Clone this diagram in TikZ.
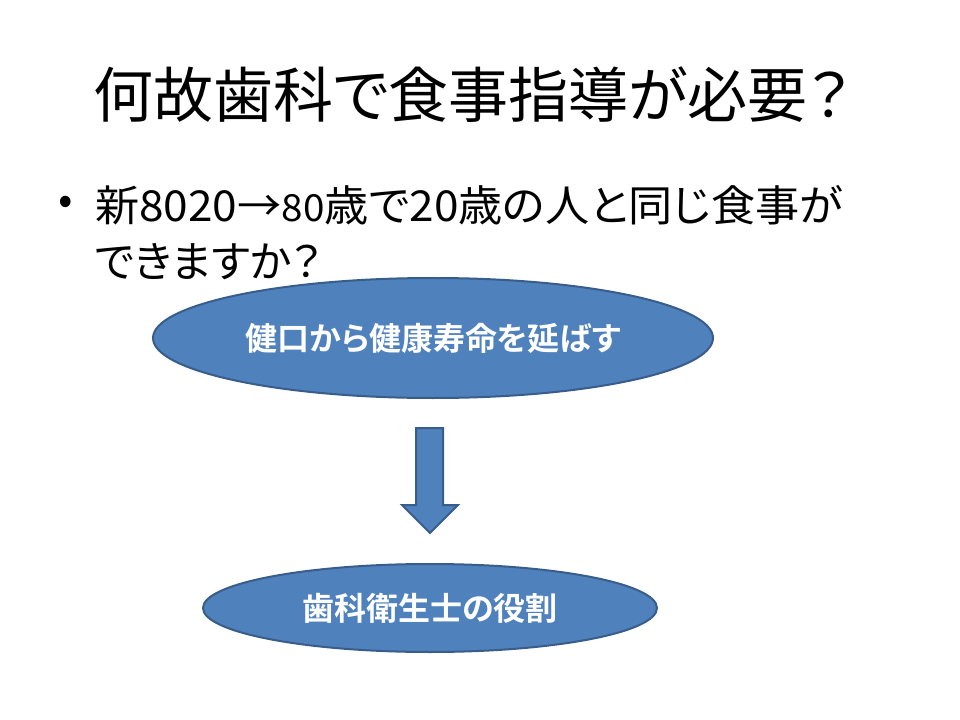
\documentclass[tikz,border=0pt]{standalone}
\usepackage{fontspec}
\usepackage{graphicx}
\newfontfamily\jp[RawFeature=+palt]{Noto Sans CJK JP}
\newfontfamily\jpb[RawFeature=+palt,BoldFont={Noto Sans CJK JP Bold}]{Noto Sans CJK JP}
\usetikzlibrary{shapes.geometric}
\definecolor{boxfill}{HTML}{4F81BD}
\definecolor{boxline}{HTML}{385D8A}
\tikzset{
  oval/.style={ellipse, fill=boxfill, draw=boxline, line width=1.5pt, inner sep=0pt, text=white, font=\jpb\bfseries\fontsize{24}{28}\selectfont},
  blockarrow/.style={fill=boxfill, draw=boxline, line width=1.5pt, line join=miter},
  bodytext/.style={font=\jp\fontsize{32}{38}\selectfont, anchor=west, inner sep=0pt},
}
\begin{document}
\begin{tikzpicture}[x=0.75pt,y=-0.75pt]
\useasboundingbox (0,0) rectangle (960,720);
\node[font=\jp\fontsize{45}{50}\selectfont] (title) at (472,95) {何故歯科で食事指導が必要？};
\node[font=\jp\fontsize{32}{38}\selectfont, anchor=center] (bul) at (66,205) {•};
\node[bodytext] (l1) at (95,205) {\scalebox{1.035}[1]{新8020→{\fontsize{28}{32}\selectfont 80}歳で20歳の人と同じ食事が}};
\node[bodytext] (l2) at (95,262) {できますか？};
\node[oval, minimum width=560*0.75pt, minimum height=120*0.75pt] (e1) at (433,338) {健口から健康寿命を延ばす};
\node[oval, minimum width=454*0.75pt, minimum height=88*0.75pt] (e2) at (430,608) {歯科衛生士の役割};
\draw[blockarrow] (416,428) -- (443,428) -- (443,505) -- (458,505) -- (430,533) -- (402,505) -- (416,505) -- cycle;
\end{tikzpicture}
\end{document}
